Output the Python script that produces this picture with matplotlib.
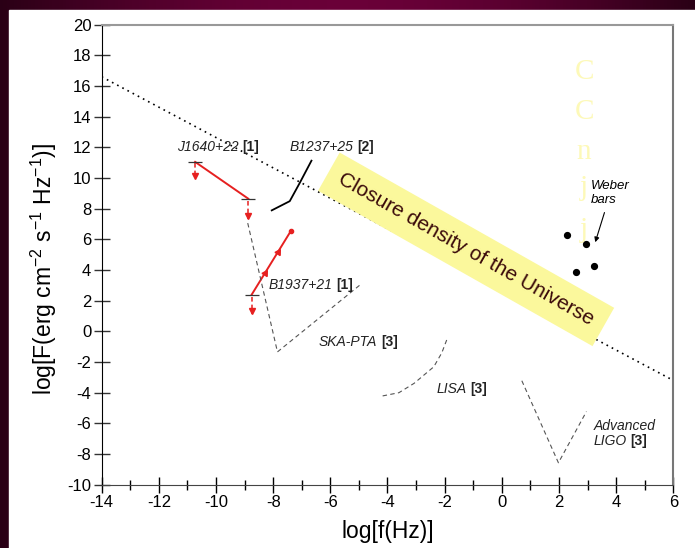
import matplotlib
matplotlib.use("Agg")
import matplotlib.pyplot as plt
import numpy as np
from matplotlib.patches import Rectangle

plt.rcParams["font.family"] = ["Liberation Sans", "DejaVu Sans"]
plt.rcParams["mathtext.fontset"] = "custom"
plt.rcParams["mathtext.rm"] = "Liberation Sans"
plt.rcParams["mathtext.it"] = "Liberation Sans:italic"
plt.rcParams["axes.unicode_minus"] = False

# closure density line
closure_x = [-14, 6]
closure_y = [16.6, -3.2]

# pulsar limits (red)
j1640_x = [-10.73, -8.87]
j1640_y = [11.05, 8.65]
b1937_x = [-8.75, -7.38]
b1937_y = [2.4, 6.55]
b1937_arrow_x = [-8.29, -7.84]
b1937_arrow_y = [3.8, 5.2]
b1237_x = [-8.05, -7.42, -7.07, -6.66]
b1237_y = [7.89, 8.49, 9.68, 11.13]

# upper-limit arrows: x, y top, y bottom
limit_x = [-10.73, -8.87, -8.75]
limit_top = [10.95, 8.5, 2.25]
limit_bot = [10.0, 7.35, 1.15]

# sensitivity curves (dashed)
ska_x = [-8.89, -7.85, -4.92]
ska_y = [7.06, -1.34, 3.09]
lisa_x = [-4.17, -3.6, -3.07, -2.38, -2.1, -1.91]
lisa_y = [-4.21, -4.0, -3.39, -2.31, -1.4, -0.47]
ligo_x = [0.70, 1.98, 2.96]
ligo_y = [-3.22, -8.57, -5.23]

# Weber bars
weber_x = [2.28, 2.94, 2.59, 3.22]
weber_y = [6.29, 5.7, 3.89, 4.28]

ghost_letters = ["C", "C", "n", "j", "j"]
ghost_y = [16.9, 14.3, 11.7, 9.35, 6.6]

fig = plt.figure(figsize=(6.95, 5.48), dpi=100)

# maroon backdrop with a soft gradient
bg = fig.add_axes([0, 0, 1, 1])
gx = np.linspace(0, 1, 200)
grad = np.sin(np.pi * gx)[None, :] * np.ones((50, 1))
bg.imshow(grad, aspect="auto", cmap=matplotlib.colors.LinearSegmentedColormap.from_list(
    "m", ["#2a0016", "#6a0038"]), extent=[0, 1, 0, 1])
bg.add_patch(Rectangle((9 / 695, 0), 1, 1 - 10 / 548, color="white"))
bg.set_xlim(0, 1)
bg.set_ylim(0, 1)
bg.axis("off")

ax = fig.add_axes([0.1463, 0.1155, 0.8225, 0.8395])
ax.set_xlim(-14, 6)
ax.set_ylim(-10, 20)

ax.spines["left"].set_color("black")
ax.spines["bottom"].set_color("#444444")
ax.spines["top"].set_color("#999999")
ax.spines["right"].set_color("#777777")
ax.spines["top"].set_linewidth(1.5)
ax.spines["right"].set_linewidth(1.5)

ax.set_xticks(np.arange(-14, 7, 2))
ax.set_xticks(np.arange(-13, 6, 2), minor=True)
ax.set_yticks(np.arange(-10, 21, 2))
ax.tick_params(which="major", direction="inout", length=11, width=1, labelsize=12, pad=2)
ax.tick_params(which="minor", direction="inout", length=6.5, width=1)
ax.tick_params(axis="y", colors="#333333", labelcolor="black")

ax.set_xlabel("log[f(Hz)]", fontsize=16.5, labelpad=7)
ax.set_ylabel(r"log[F(erg cm$^{-2}$ s$^{-1}$ Hz$^{-1}$)]", fontsize=16.5)
ax.yaxis.set_label_coords(-0.075, 0.47)

# closure density
ax.plot(closure_x, closure_y, color="black", lw=1.2, linestyle=(0, (1, 2.5)))
ax.text(-1.25, 5.35, "Closure density of the Universe", rotation=-29.5,
        rotation_mode="anchor", ha="center", va="center", fontsize=15, color="#3a0a0a",
        bbox=dict(boxstyle="square,pad=0.6", facecolor="#fbf89c", edgecolor="none"))

# ghost letters
for letter, gy in zip(ghost_letters, ghost_y):
    ax.text(2.88, gy, letter, fontsize=21, family="Liberation Serif", color="#fdf9b8",
            ha="center", va="center", zorder=0.5)

# pulsars
ax.plot(j1640_x, j1640_y, color="#e62020", lw=1.4)
ax.plot(b1937_x, b1937_y, color="#e62020", lw=1.4)
ax.plot(b1937_arrow_x, b1937_arrow_y, linestyle="none", marker=(3, 0, -31.6),
        markersize=5, color="#e62020")
ax.plot(b1937_x[-1], b1937_y[-1], "o", color="#e62020", markersize=3)
ax.plot(b1237_x, b1237_y, color="black", lw=1.3)

for lx, top, bot in zip(limit_x, limit_top, limit_bot):
    ax.plot([lx, lx], [top, bot], color="#e62020", lw=1.1, linestyle=(0, (3, 2)))
    ax.plot(lx, bot + 0.15, marker="v", color="#e62020", markersize=4)

for px, py in [(j1640_x[0], j1640_y[0]), (j1640_x[1], j1640_y[1]), (b1937_x[0], b1937_y[0])]:
    ax.plot(px, py, marker="_", color="#333333", markersize=10, mew=0.9)

# sensitivity curves
dash = (0, (4, 3))
ax.plot(ska_x, ska_y, color="#555555", lw=0.8, linestyle=dash)
ax.plot(lisa_x, lisa_y, color="#555555", lw=0.8, linestyle=dash)
ax.plot(ligo_x, ligo_y, color="#555555", lw=0.8, linestyle=dash)

# weber bars
ax.plot(weber_x, weber_y, "o", color="black", markersize=4.2)
ax.text(3.13, 9.48, "Weber", fontsize=9.5, style="italic", va="center")
ax.text(3.13, 8.57, "bars", fontsize=9.5, style="italic", va="center")
ax.annotate("", xy=(3.24, 5.64), xytext=(3.62, 7.92),
            arrowprops=dict(arrowstyle="-|>", color="black", lw=0.8, mutation_scale=7))


def label(x, y, name, ref):
    t = ax.text(x, y, name, fontsize=10, style="italic", va="center", color="#222222")
    ax.annotate(ref, xy=(1, 0.5), xycoords=t, xytext=(3, 0), textcoords="offset points",
                fontsize=10, fontweight="bold", va="center", color="#222222")


label(-11.38, 12.0, "J1640+22", "[1]")
label(-7.43, 12.0, "B1237+25", "[2]")
label(-8.16, 3.0, "B1937+21", "[1]")
label(-6.41, -0.69, "SKA-PTA", "[3]")
label(-2.29, -3.75, "LISA", "[3]")
ax.text(3.2, -6.17, "Advanced", fontsize=10, style="italic", va="center", color="#222222")
label(3.2, -7.15, "LIGO", "[3]")

fig.savefig("out.png", dpi=100)
